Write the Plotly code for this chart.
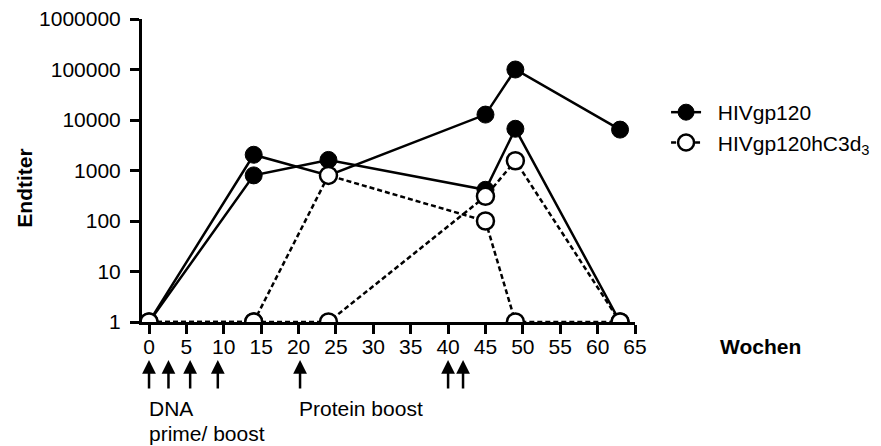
import plotly.graph_objects as go

weeks = [0, 14, 24, 45, 49, 63]
gp120_a = [1, 2050, 800, 12800, 100000, 6450]
gp120_b = [1, 800, 1620, 415, 6700, 1]
c3d_a = [1, 1, 800, 100, 1, 1]
c3d_b = [1, 1, 1, 308, 1560, 1]

y_ticks = [1, 10, 100, 1000, 10000, 100000, 1000000]
y_ticktext = ["1", "10", "100", "1000", "10000", "100000", "1000000"]
x_ticks = [0, 5, 10, 15, 20, 25, 30, 35, 40, 45, 50, 55, 60, 65]

dna_weeks = [0, 2.6, 5.5, 9.2]
protein_weeks = [20.2, 40, 42]

FONT = "Liberation Sans, Arial, sans-serif"
FS = 21

fig = go.Figure()

def solid(y, show):
    fig.add_trace(go.Scatter(
        x=weeks, y=y, mode="lines+markers", name="&nbsp;&nbsp;HIVgp120",
        legendgroup="a", showlegend=show,
        line=dict(color="black", width=2.5),
        marker=dict(symbol="circle", size=17, color="black",
                    line=dict(color="black", width=1)),
    ))

def dashed(y, show):
    fig.add_trace(go.Scatter(
        x=weeks, y=y, mode="lines+markers", name="&nbsp;&nbsp;HIVgp120hC3d<sub>3</sub>",
        legendgroup="a", showlegend=show,
        line=dict(color="black", width=2.5, dash="5px,3px"),
        marker=dict(symbol="circle", size=17, color="white",
                    line=dict(color="black", width=2.5)),
    ))

solid(gp120_a, True)
solid(gp120_b, False)
dashed(c3d_a, True)
dashed(c3d_b, False)

annotations = []
for w in dna_weeks + protein_weeks:
    annotations.append(dict(
        x=w, xref="x", y=-0.1254, yref="paper", text="", showarrow=True,
        ax=0, ay=30, axref="pixel", ayref="pixel",
        arrowhead=2, arrowsize=1.1, arrowwidth=2.5, arrowcolor="black",
        standoff=0, startstandoff=0,
    ))

annotations += [
    dict(x=-0.27, xref="x", y=-0.284, yref="paper", text="DNA", showarrow=False,
         xanchor="left", yanchor="middle", font=dict(size=FS)),
    dict(x=-0.27, xref="x", y=-0.368, yref="paper", text="prime/ boost", showarrow=False,
         xanchor="left", yanchor="middle", font=dict(size=FS)),
    dict(x=19.75, xref="x", y=-0.284, yref="paper", text="Protein boost", showarrow=False,
         xanchor="left", yanchor="middle", font=dict(size=FS)),
    dict(x=1.168, xref="paper", y=-0.0825, yref="paper", text="<b>Wochen</b>", showarrow=False,
         xanchor="left", yanchor="middle", font=dict(size=FS)),
    dict(x=-0.239, xref="paper", y=0.4406, yref="paper", text="<b>Endtiter</b>", showarrow=False,
         textangle=-90, xanchor="center", yanchor="middle", font=dict(size=FS)),
]

fig.update_layout(
    width=873, height=438,
    margin=dict(l=134, r=246, t=11, b=124, autoexpand=False),
    paper_bgcolor="white", plot_bgcolor="white",
    font=dict(family=FONT, size=FS, color="black"),
    showlegend=True,
    legend=dict(x=1.063, y=0.759, xanchor="left", yanchor="top",
                bgcolor="rgba(0,0,0,0)", font=dict(size=FS),
                tracegroupgap=0, itemsizing="trace"),
    annotations=annotations,
    xaxis=dict(range=[-0.94, 65], tickvals=x_ticks, ticks="outside", ticklen=9,
               tickwidth=3, tickcolor="black", showline=True, linewidth=3,
               linecolor="black", showgrid=False, zeroline=False,
               tickfont=dict(size=FS), ticklabelstandoff=-5, automargin=False,
               ticklabeloverflow="allow"),
    yaxis=dict(type="log", range=[0, 6], tickvals=y_ticks, ticktext=y_ticktext,
               ticks="outside", ticklen=9, tickwidth=3, tickcolor="black",
               showline=True, linewidth=3, linecolor="black", showgrid=False,
               zeroline=False, tickfont=dict(size=FS), ticklabelstandoff=5,
               automargin=False, ticklabeloverflow="allow"),
)

fig.write_html("out.html")
